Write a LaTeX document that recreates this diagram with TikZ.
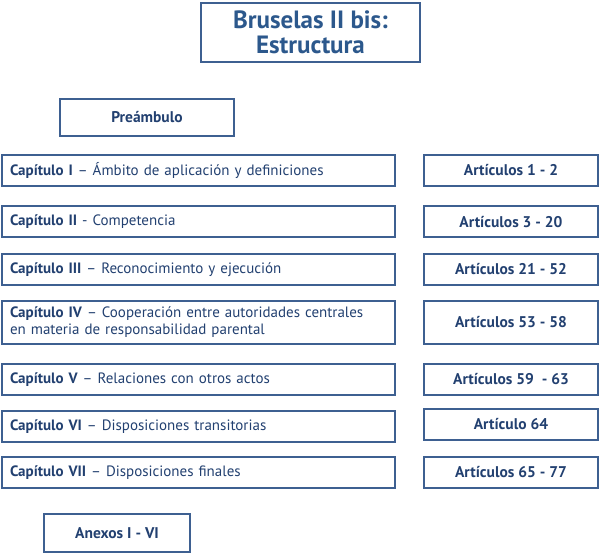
\documentclass[tikz,border=0pt]{standalone}
\usepackage{fontspec}
\setmainfont{PT Sans}
\usetikzlibrary{positioning}
\definecolor{boxblue}{RGB}{62,96,145}
\definecolor{textblue}{RGB}{34,64,112}
\definecolor{titleblue}{RGB}{44,88,140}
\tikzstyle{box} = [draw=boxblue,line width=2pt,text=textblue,inner sep=0pt,align=center]
\tikzstyle{chapter} = [box,minimum width=393pt,minimum height=31pt,text width=377pt,inner xsep=8pt,align=left,font=\fontsize{15}{17}\selectfont]
\tikzstyle{article} = [box,minimum width=174pt,minimum height=31pt,font=\bfseries\fontsize{15.5}{17}\selectfont]

\begin{document}
\begin{tikzpicture}[x=1pt,y=-1pt,
                    node distance = 27pt
                   ]

\useasboundingbox (0,0) rectangle (600,554);

% title and preamble
\node[box,minimum width=219pt,minimum height=59pt,text=titleblue,
      font=\bfseries\fontsize{25}{25}\selectfont] (title) at (310.5,32.5) {Bruselas II bis:\\ Estructura};
\node[box,minimum width=174pt,minimum height=37pt,font=\bfseries\fontsize{15.5}{17}\selectfont] (preambulo) at (147,117.5) {Preámbulo};

% chapters
\node[chapter] (cap1) at (198.5,170.5) {\textbf{Capítulo I} – Ámbito de aplicación y definiciones};
\node[chapter] (cap2) at (198.5,221.75) {\textbf{Capítulo II} - Competencia};
\node[chapter] (cap3) at (198.5,269.5) {\textbf{Capítulo III} – Reconocimiento y ejecución};
\node[chapter,minimum height=43pt] (cap4) at (198.5,322.5) {\textbf{Capítulo IV} – Cooperación entre autoridades centrales\\ en materia de responsabilidad parental};
\node[chapter] (cap5) at (198.5,379.5) {\textbf{Capítulo V} – Relaciones con otros actos};
\node[chapter] (cap6) at (198.5,426.5) {\textbf{Capítulo VI} – Disposiciones transitorias};
\node[chapter] (cap7) at (198.5,472.5) {\textbf{Capítulo VII} – Disposiciones finales};

% articles
\node[article,right=of cap1] (art1) {Artículos 1 - 2};
\node[article,right=of cap2] (art2) {Artículos 3 - 20};
\node[article,right=of cap3] (art3) {Artículos 21 - 52};
\node[article,minimum height=43pt,right=of cap4] (art4) {Artículos 53 - 58};
\node[article,right=of cap5] (art5) {Artículos 59\ \ - 63};
\node[article,right=of cap6,yshift=2.5pt] (art6) {Artículo 64};
\node[article,right=of cap7] (art7) {Artículos 65 - 77};

% annexes
\node[box,minimum width=146pt,minimum height=38pt,font=\bfseries\fontsize{15.5}{17}\selectfont] (anexos) at (117,533) {Anexos I - VI};

\end{tikzpicture}
\end{document}
